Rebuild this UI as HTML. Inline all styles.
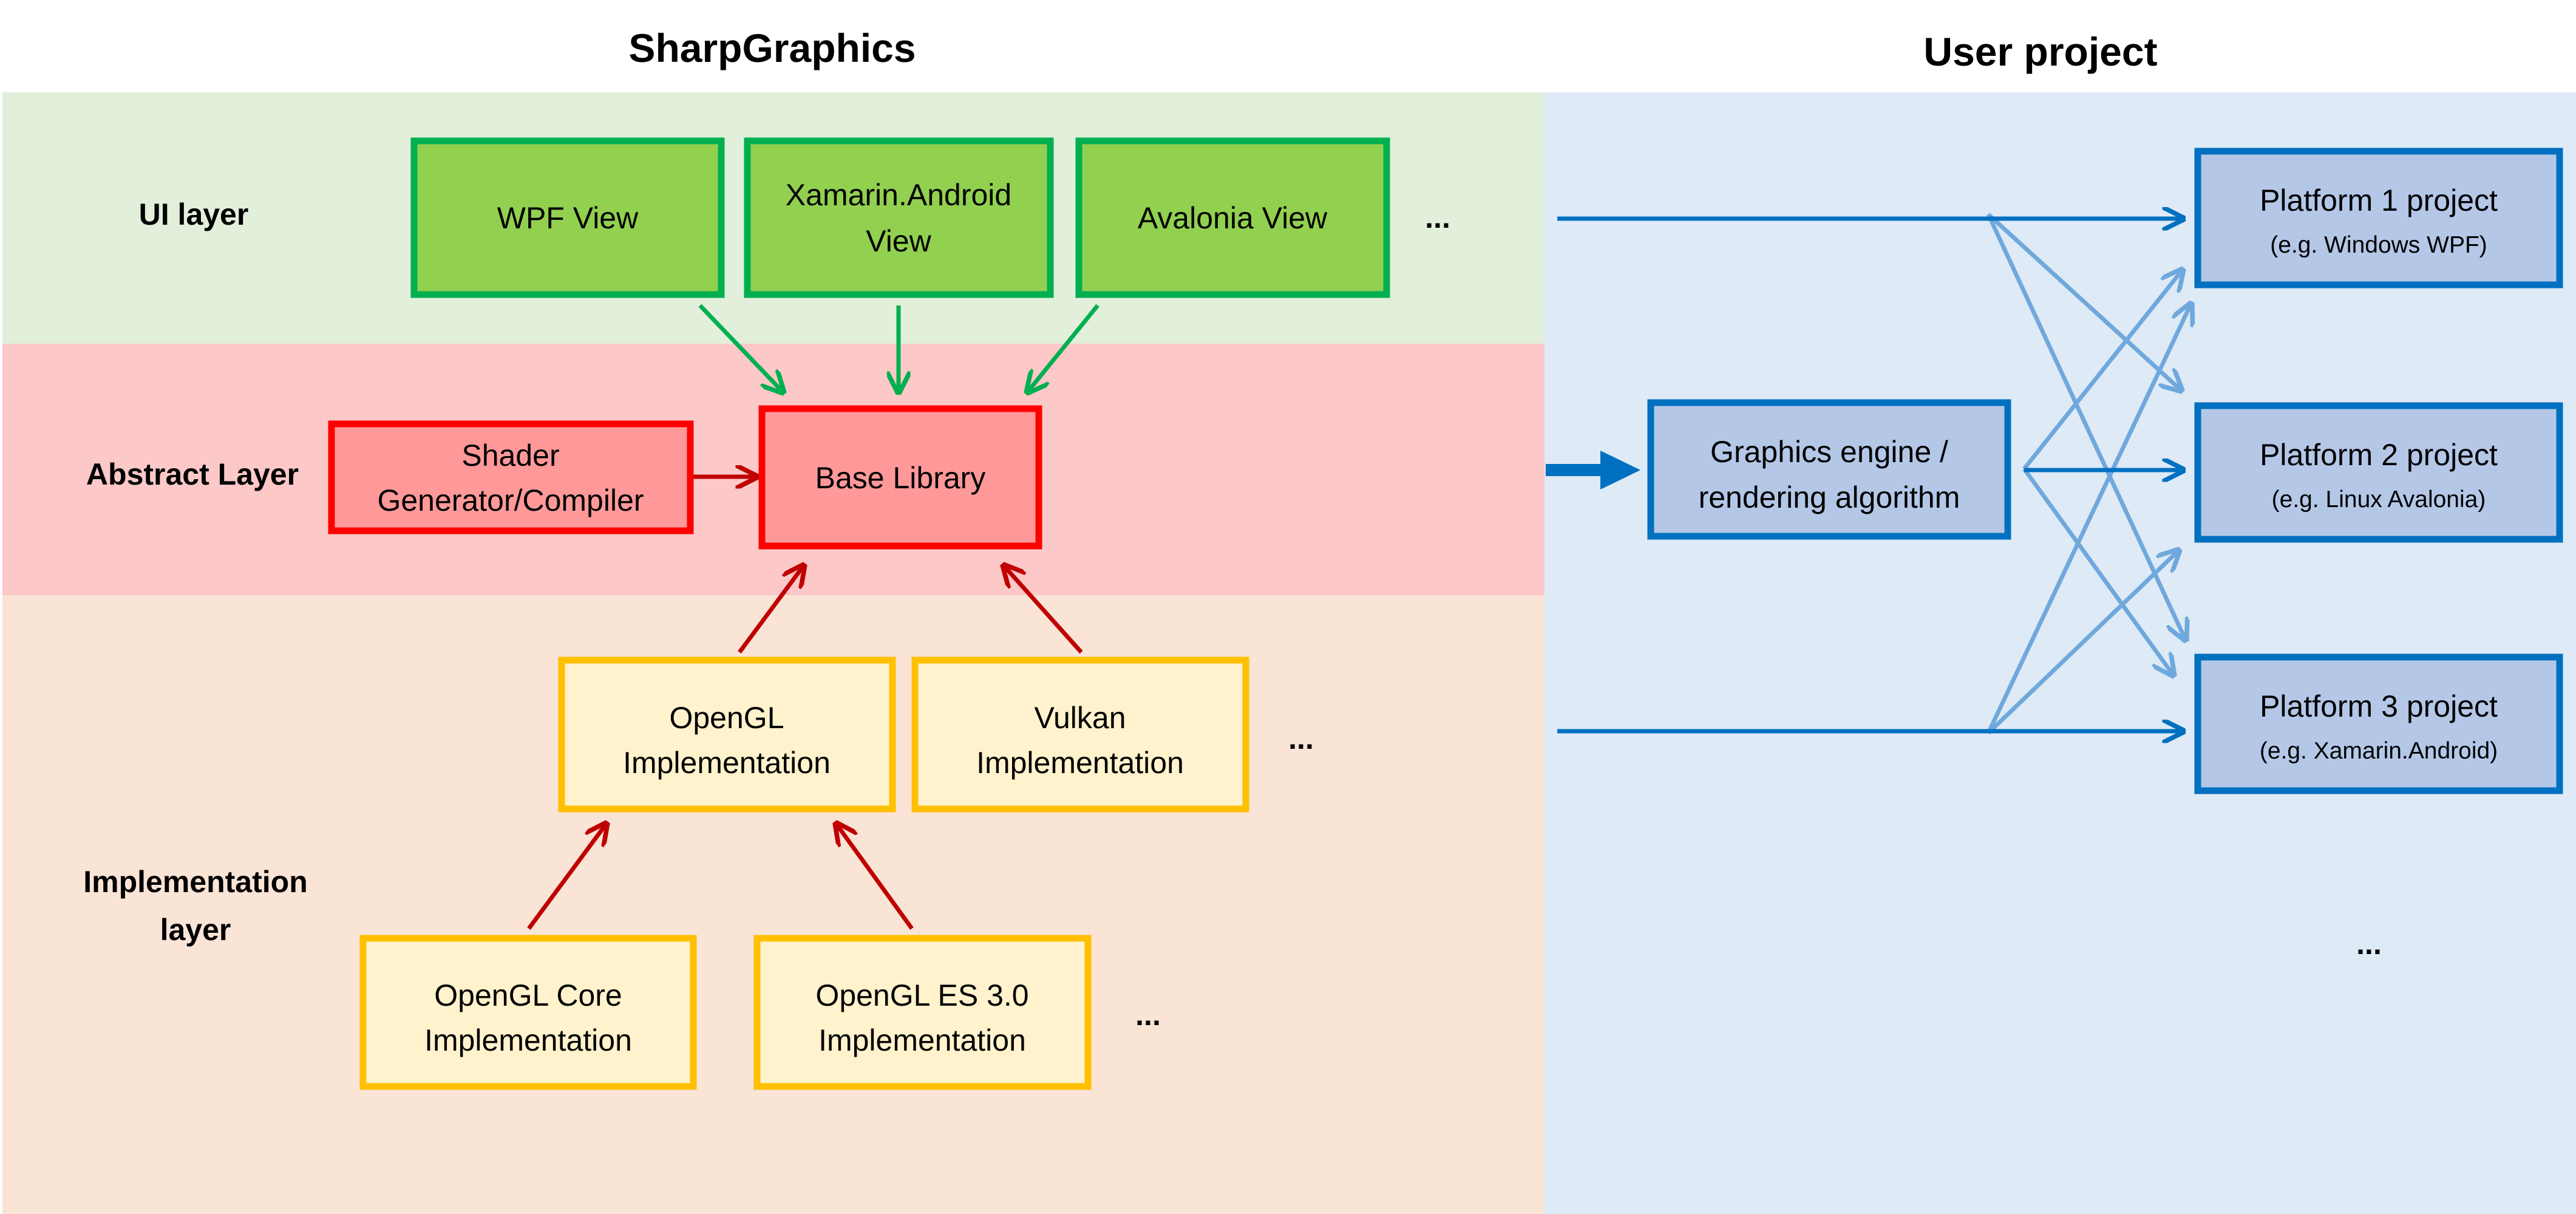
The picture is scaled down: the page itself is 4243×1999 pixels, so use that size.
<!DOCTYPE html>
<html><head><meta charset="utf-8"><style>html,body{margin:0;padding:0;background:#fff}svg{display:block}</style></head>
<body>
<svg width="4243" height="1999" viewBox="0 0 4243 1999" xmlns="http://www.w3.org/2000/svg" font-family="Liberation Sans, sans-serif">
<defs>
<marker id="ag" viewBox="0 0 10 10" refX="9" refY="5" markerWidth="5.5" markerHeight="5.5" orient="auto"><path d="M0,0 L10,5 L0,10" fill="none" stroke="#00B050" stroke-width="2"/></marker>
<marker id="ar" viewBox="0 0 10 10" refX="9" refY="5" markerWidth="5.5" markerHeight="5.5" orient="auto"><path d="M0,0 L10,5 L0,10" fill="none" stroke="#C00000" stroke-width="2"/></marker>
<marker id="ab" viewBox="0 0 10 10" refX="9" refY="5" markerWidth="5.5" markerHeight="5.5" orient="auto"><path d="M0,0 L10,5 L0,10" fill="none" stroke="#0070C0" stroke-width="2"/></marker>
<marker id="al" viewBox="0 0 10 10" refX="9" refY="5" markerWidth="5.5" markerHeight="5.5" orient="auto"><path d="M0,0 L10,5 L0,10" fill="none" stroke="#6FA8DC" stroke-width="2"/></marker>
</defs>
<rect x="4" y="152" width="2540" height="414" fill="#E2EFDA"/>
<rect x="4" y="566" width="2540" height="414" fill="#FCC8C8"/>
<rect x="4" y="980" width="2540" height="1019" fill="#F9E4D6"/>
<rect x="2544" y="152" width="1699" height="1847" fill="#DEEAF6"/>
<g font-weight="bold" text-anchor="middle" fill="#000">
<text x="1272" y="102" font-size="66">SharpGraphics</text>
<text x="3361" y="108" font-size="66">User project</text>
<text x="319" y="370" font-size="50">UI layer</text>
<text x="317" y="798" font-size="50">Abstract Layer</text>
<text x="322" y="1469" font-size="50">Implementation</text>
<text x="322" y="1548" font-size="50">layer</text>
</g>
<g fill="#92D050" stroke="#00B050" stroke-width="11">
<rect x="682" y="232" width="506" height="253"/>
<rect x="1231" y="232" width="499" height="253"/>
<rect x="1777" y="232" width="507" height="253"/>
</g>
<g fill="#FF9999" stroke="#FF0000" stroke-width="11">
<rect x="546" y="698" width="591" height="176"/>
<rect x="1255" y="673" width="456" height="226"/>
</g>
<g fill="#FFF2CC" stroke="#FFC000" stroke-width="11">
<rect x="925" y="1087" width="545" height="245"/>
<rect x="1507" y="1087" width="545" height="245"/>
<rect x="598" y="1545" width="544" height="244"/>
<rect x="1247" y="1545" width="545" height="244"/>
</g>
<g fill="#B4C7E7" stroke="#0070C0" stroke-width="11">
<rect x="2719" y="663" width="588" height="220"/>
<rect x="3620" y="249" width="596" height="220"/>
<rect x="3620" y="668" width="596" height="220"/>
<rect x="3620" y="1082" width="596" height="220"/>
</g>
<g font-size="50" text-anchor="middle" fill="#000">
<text x="935" y="376">WPF View</text>
<text x="1480" y="338">Xamarin.Android</text>
<text x="1480" y="414">View</text>
<text x="2030" y="376">Avalonia View</text>
<text x="841" y="767">Shader</text>
<text x="841" y="841">Generator/Compiler</text>
<text x="1483" y="804">Base Library</text>
<text x="1197" y="1199">OpenGL</text>
<text x="1197" y="1273">Implementation</text>
<text x="1779" y="1199">Vulkan</text>
<text x="1779" y="1273">Implementation</text>
<text x="870" y="1656">OpenGL Core</text>
<text x="870" y="1730">Implementation</text>
<text x="1519" y="1656">OpenGL ES 3.0</text>
<text x="1519" y="1730">Implementation</text>
<text x="3013" y="761">Graphics engine /</text>
<text x="3013" y="836">rendering algorithm</text>
<text x="3918" y="347">Platform 1 project</text>
<text x="3918" y="766">Platform 2 project</text>
<text x="3918" y="1180">Platform 3 project</text>
<text x="2368" y="375" font-weight="bold">...</text>
<text x="2143" y="1233" font-weight="bold">...</text>
<text x="1891" y="1688" font-weight="bold">...</text>
<text x="3902" y="1571" font-weight="bold">...</text>
</g>
<g font-size="39" text-anchor="middle" fill="#000">
<text x="3918" y="416">(e.g. Windows WPF)</text>
<text x="3918" y="835">(e.g. Linux Avalonia)</text>
<text x="3918" y="1249">(e.g. Xamarin.Android)</text>
</g>
<g stroke="#00B050" stroke-width="7" marker-end="url(#ag)" fill="none">
<line x1="1153" y1="503" x2="1290" y2="646"/>
<line x1="1480" y1="503" x2="1480" y2="646"/>
<line x1="1808" y1="503" x2="1692" y2="646"/>
</g>
<g stroke="#C00000" stroke-width="7" marker-end="url(#ar)" fill="none">
<line x1="1142" y1="785" x2="1246" y2="785"/>
<line x1="1218" y1="1074" x2="1324" y2="931"/>
<line x1="1781" y1="1074" x2="1653" y2="931"/>
<line x1="871" y1="1529" x2="999" y2="1356"/>
<line x1="1502" y1="1529" x2="1377" y2="1356"/>
</g>
<g stroke="#6FA8DC" stroke-width="7" marker-end="url(#al)" fill="none">
<line x1="3275" y1="353" x2="3593" y2="643"/>
<line x1="3275" y1="353" x2="3600" y2="1054"/>
<line x1="3334" y1="772" x2="3595" y2="444"/>
<line x1="3334" y1="772" x2="3580" y2="1112"/>
<line x1="3275" y1="1207" x2="3609" y2="500"/>
<line x1="3275" y1="1207" x2="3589" y2="906"/>
</g>
<g stroke="#0070C0" stroke-width="7" marker-end="url(#ab)" fill="none">
<line x1="2565" y1="360" x2="3596" y2="360"/>
<line x1="2565" y1="1204" x2="3596" y2="1204"/>
<line x1="3334" y1="774" x2="3596" y2="774"/>
</g>
<line x1="2546" y1="774" x2="2640" y2="774" stroke="#0070C0" stroke-width="20"/>
<polygon points="2636,742 2702,774 2636,806" fill="#0070C0"/>
</svg>
</body></html>
